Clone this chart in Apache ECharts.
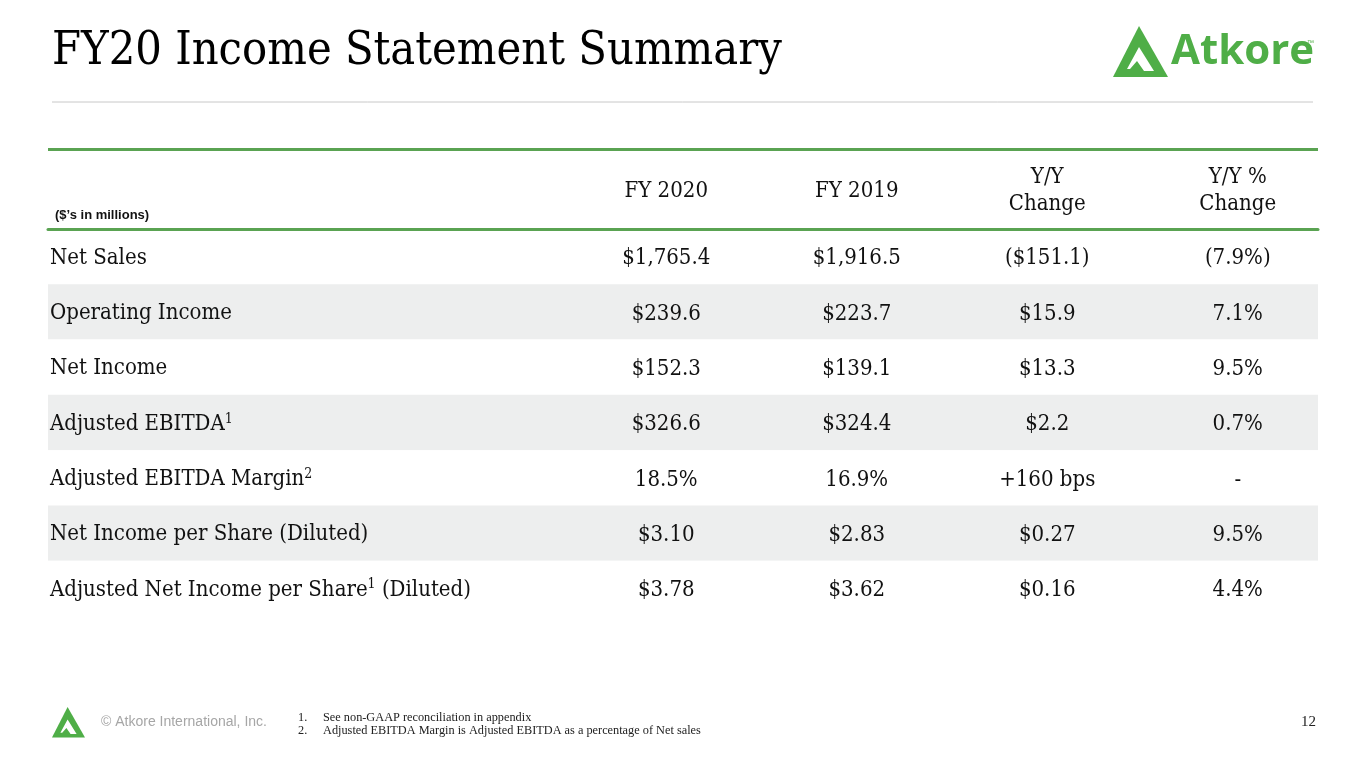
<!DOCTYPE html>
<html><head><meta charset="utf-8">
<script src="https://cdn.jsdelivr.net/npm/echarts@6/dist/echarts.min.js"></script>
<style>html,body{margin:0;padding:0;background:#fff;}#c{width:1365px;height:768px;}</style>
</head><body><div id="c"></div>
<script>
const rows = ['Net Sales','Operating Income','Net Income','Adjusted EBITDA{sup|1}','Adjusted EBITDA Margin{sup|2}','Net Income per Share (Diluted)','Adjusted Net Income per Share{sup|1} (Diluted)'];
const columns = ['FY 2020','FY 2019','Y/Y\nChange','Y/Y %\nChange'];
const fy2020 = ['$1,765.4','$239.6','$152.3','$326.6','18.5%','$3.10','$3.78'];
const fy2019 = ['$1,916.5','$223.7','$139.1','$324.4','16.9%','$2.83','$3.62'];
const yoyChange = ['($151.1)','$15.9','$13.3','$2.2','+160 bps','$0.27','$0.16'];
const yoyPct = ['(7.9%)','7.1%','9.5%','0.7%','-','9.5%','4.4%'];
const unitsNote = '($\u2019s in millions)';
const footnotes = ['See non-GAAP reconciliation in appendix','Adjusted EBITDA Margin is Adjusted EBITDA as a percentage of Net sales'];

const SERIF = '"DejaVu Serif Condensed","DejaVu Serif",serif';
const GREEN = '#5aa352';
const LOGO = '#4fae47';
const TXT = '#111111';
const colValues = [fy2020, fy2019, yoyChange, yoyPct];

const series = colValues.map((arr, ci) => ({
  type: 'scatter', xAxisIndex: 1, yAxisIndex: 1, symbolSize: 0, silent: true,
  itemStyle: { opacity: 1 },
  data: arr.map((v, ri) => [columns[ci], rows[ri], v]),
  label: { show: true, position: 'inside', formatter: p => p.value[2], opacity: 1, offset: [0, 2],
    fontFamily: SERIF, fontSize: 22, color: TXT, textBorderWidth: 0 }
}));

function tri(x, y, s) {
  return [
    { type: 'polygon', shape: { points: [[x, y + 51*s],[x + 26*s, y],[x + 55*s, y + 51*s]] }, style: { fill: LOGO } },
    { type: 'polygon', shape: { points: [[x + 26*s, y + 21*s],[x + 41*s, y + 45*s],[x + 31*s, y + 45*s],[x + 24*s, y + 35*s],[x + 17*s, y + 43*s],[x + 14*s, y + 43*s]] }, style: { fill: '#fff' } }
  ];
}

const chart = echarts.init(document.getElementById('c'));
chart.setOption({
  backgroundColor: '#fff',
  animation: false,
  title: { text: 'FY20 Income Statement Summary', left: 47, top: 23,
    textStyle: { fontFamily: SERIF, fontSize: 46.5, fontWeight: 'normal', color: '#000' } },
  grid: [
    { left: 48, right: 47, top: 229, height: 387 },
    { left: 571, right: 32, top: 229, height: 387 }
  ],
  xAxis: [
    { type: 'value', gridIndex: 0, position: 'top', show: true,
      axisLine: { show: true, onZero: false, lineStyle: { color: GREEN, width: 3 } },
      axisTick: { show: false }, axisLabel: { show: false }, splitLine: { show: false } },
    { type: 'category', gridIndex: 1, position: 'top', data: columns,
      axisLine: { show: false }, axisTick: { show: false }, splitLine: { show: false },
      axisLabel: { margin: 38, verticalAlign: 'middle', fontFamily: SERIF, fontSize: 22, lineHeight: 27, color: TXT } }
  ],
  yAxis: [
    { type: 'category', gridIndex: 0, inverse: true, data: rows,
      axisLine: { show: false }, axisTick: { show: false }, splitLine: { show: false },
      splitArea: { show: true, areaStyle: { color: ['#ffffff', '#edeeee'] } },
      axisLabel: { inside: true, margin: 2, fontFamily: SERIF, fontSize: 22, color: TXT, padding: [3, 0, 0, 0],
        formatter: v => v,
        rich: { sup: { fontFamily: SERIF, fontSize: 14, verticalAlign: 'top', padding: [0,0,10,0], color: TXT } } } },
    { type: 'category', gridIndex: 1, inverse: true, data: rows, show: false }
  ],
  series: series,
  graphic: [
    { type: 'line', shape: { x1: 52, y1: 102, x2: 1313, y2: 102 }, style: { stroke: '#c8c8c8', lineWidth: 1 } },
    { type: 'line', shape: { x1: 48, y1: 149.5, x2: 1318, y2: 149.5 }, style: { stroke: GREEN, lineWidth: 3 } },
    { type: 'text', x: 55, y: 215, style: { text: unitsNote, font: 'bold 13px "Liberation Sans", Arial, sans-serif', fill: '#111', textVerticalAlign: 'middle' } },
    ...tri(1113, 26, 1),
    { type: 'text', x: 1171, y: 52, style: { text: 'Atkore', font: 'bold 42px "Open Sans", sans-serif', fill: LOGO, textVerticalAlign: 'middle' } },
    { type: 'text', x: 1307, y: 40, style: { text: '\u2122', font: '7px "Liberation Sans", sans-serif', fill: LOGO } },
    ...tri(52, 707, 0.6),
    { type: 'text', x: 101, y: 722, style: { text: '\u00a9 Atkore International, Inc.', font: '14px "Liberation Sans", Arial, sans-serif', fill: '#a6a6a6', textVerticalAlign: 'middle' } },
    { type: 'text', x: 298, y: 718, style: { text: '1.', font: '12.3px "Liberation Serif", serif', fill: '#222', textVerticalAlign: 'middle' } },
    { type: 'text', x: 323, y: 718, style: { text: footnotes[0], font: '12.3px "Liberation Serif", serif', fill: '#222', textVerticalAlign: 'middle' } },
    { type: 'text', x: 298, y: 731, style: { text: '2.', font: '12.3px "Liberation Serif", serif', fill: '#222', textVerticalAlign: 'middle' } },
    { type: 'text', x: 323, y: 731, style: { text: footnotes[1], font: '12.3px "Liberation Serif", serif', fill: '#222', textVerticalAlign: 'middle' } },
    { type: 'text', x: 1316, y: 722, style: { text: '12', font: '15px "Liberation Serif", serif', fill: '#222', textAlign: 'right', textVerticalAlign: 'middle' } }
  ]
});
</script></body></html>
